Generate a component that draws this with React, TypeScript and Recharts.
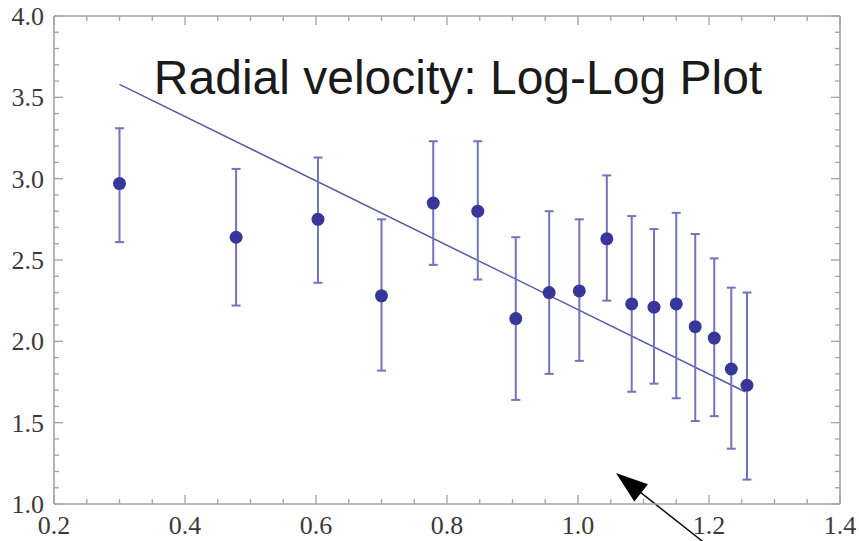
import { ComposedChart, Scatter, Line, XAxis, YAxis, ErrorBar, ReferenceLine } from 'recharts';

// log r values (x) and log v values (y)
const logR = [0.30, 0.478, 0.603, 0.70, 0.779, 0.847, 0.905, 0.956, 1.002, 1.044, 1.082, 1.116, 1.15, 1.179, 1.208, 1.234, 1.258];
const logV = [2.97, 2.64, 2.75, 2.28, 2.85, 2.80, 2.14, 2.30, 2.31, 2.63, 2.23, 2.21, 2.23, 2.09, 2.02, 1.83, 1.73];
const errTop = [3.31, 3.06, 3.13, 2.75, 3.23, 3.23, 2.64, 2.80, 2.75, 3.02, 2.77, 2.69, 2.79, 2.66, 2.51, 2.33, 2.30];
const errBottom = [2.61, 2.22, 2.36, 1.82, 2.47, 2.38, 1.64, 1.80, 1.88, 2.25, 1.69, 1.74, 1.65, 1.51, 1.54, 1.34, 1.15];

// fitted straight line
const fitX = [0.30, 1.255];
const fitY = [3.58, 1.69];

// annotation arrow (tail -> tip), in data units
const arrowTail = { x: 1.195, y: 0.755 };
const arrowTip = { x: 1.058, y: 1.19 };

const xMajor = ['0.2', '0.4', '0.6', '0.8', '1.0', '1.2', '1.4'];
const yMajor = ['1.0', '1.5', '2.0', '2.5', '3.0', '3.5', '4.0'];
const xTicks = Array.from({ length: 25 }, (_, i) => Math.round((0.2 + i * 0.05) * 100) / 100);
const yTicks = Array.from({ length: 31 }, (_, i) => Math.round((1 + i * 0.1) * 10) / 10);

const points = logR.map((x, i) => ({
  x,
  y: logV[i],
  err: [logV[i] - errBottom[i], errTop[i] - logV[i]],
}));
const fitData = fitX.map((x, i) => ({ x, y: fitY[i] }));

const FRAME = '#a3a3a3';
const LABEL = '#3a3a3a';
const labelFont = '"Liberation Serif", "Times New Roman", serif';

const majorLabel = (v: number, labels: string[]) => labels.find((l) => Math.abs(parseFloat(l) - v) < 1e-6);

const BottomTick = ({ x, y, payload }: any) => {
  const lab = majorLabel(payload.value, xMajor);
  return (
    <g>
      <line x1={x} y1={y} x2={x} y2={y - (lab ? 9 : 5)} stroke={FRAME} strokeWidth={1.3} />
      {lab && (
        <text x={x} y={y + 30} textAnchor="middle" fontFamily={labelFont} fontSize={26} fill={LABEL}>
          {lab}
        </text>
      )}
    </g>
  );
};

const TopTick = ({ x, y, payload }: any) => {
  const lab = majorLabel(payload.value, xMajor);
  return <line x1={x} y1={y} x2={x} y2={y + (lab ? 9 : 5)} stroke={FRAME} strokeWidth={1.3} />;
};

const LeftTick = ({ x, y, payload }: any) => {
  const lab = majorLabel(payload.value, yMajor);
  return (
    <g>
      <line x1={x} y1={y} x2={x + (lab ? 9 : 5)} y2={y} stroke={FRAME} strokeWidth={1.3} />
      {lab && (
        <text x={x - 10} y={y + 9} textAnchor="end" fontFamily={labelFont} fontSize={26} fill={LABEL}>
          {lab}
        </text>
      )}
    </g>
  );
};

const RightTick = ({ x, y, payload }: any) => {
  const lab = majorLabel(payload.value, yMajor);
  return <line x1={x} y1={y} x2={x - (lab ? 9 : 5)} y2={y} stroke={FRAME} strokeWidth={1.3} />;
};

const Arrow = (props: any) => {
  const { x1, y1, x2, y2 } = props;
  const dx = x2 - x1;
  const dy = y2 - y1;
  const len = Math.sqrt(dx * dx + dy * dy);
  const ux = dx / len;
  const uy = dy / len;
  const headLen = 32;
  const halfW = 11;
  const bx = x2 - ux * headLen;
  const by = y2 - uy * headLen;
  return (
    <g>
      <line x1={x1} y1={y1} x2={bx + ux * 2} y2={by + uy * 2} stroke="#000" strokeWidth={1.4} />
      <polygon
        points={`${x2},${y2} ${bx - uy * halfW},${by + ux * halfW} ${bx + uy * halfW},${by - ux * halfW}`}
        fill="#000"
      />
    </g>
  );
};

const Dot = ({ cx, cy }: any) => <circle cx={cx} cy={cy} r={6.5} fill="#37379a" />;

export default function App() {
  return (
    <div style={{ position: 'absolute', left: 0, top: 0, width: 859, height: 541, background: '#fff' }}>
      <ComposedChart width={859} height={541} margin={{ top: 15, right: 18, bottom: 0, left: 8 }}>
        <XAxis
          type="number"
          dataKey="x"
          domain={[0.2, 1.4]}
          allowDataOverflow
          ticks={xTicks}
          interval={0}
          height={37}
          tickSize={0}
          tickMargin={0}
          tickLine={false}
          axisLine={{ stroke: FRAME, strokeWidth: 1.6 }}
          tick={<BottomTick />}
        />
        <XAxis
          xAxisId="top"
          orientation="top"
          type="number"
          dataKey="x"
          domain={[0.2, 1.4]}
          allowDataOverflow
          ticks={xTicks}
          interval={0}
          height={1}
          tickSize={0}
          tickMargin={0}
          tickLine={false}
          axisLine={{ stroke: FRAME, strokeWidth: 1.6 }}
          tick={<TopTick />}
        />
        <YAxis
          type="number"
          dataKey="y"
          domain={[1, 4]}
          allowDataOverflow
          ticks={yTicks}
          interval={0}
          width={46}
          tickSize={0}
          tickMargin={0}
          tickLine={false}
          axisLine={{ stroke: FRAME, strokeWidth: 1.6 }}
          tick={<LeftTick />}
        />
        <YAxis
          yAxisId="right"
          orientation="right"
          type="number"
          dataKey="y"
          domain={[1, 4]}
          allowDataOverflow
          ticks={yTicks}
          interval={0}
          width={1}
          tickSize={0}
          tickMargin={0}
          tickLine={false}
          axisLine={{ stroke: FRAME, strokeWidth: 1.6 }}
          tick={<RightTick />}
        />
        {/* fit line is drawn on the mirrored frame axes (same domains) */}
        <Line
          data={fitData}
          dataKey="y"
          xAxisId="top"
          yAxisId="right"
          type="linear"
          stroke="#5858a8"
          strokeWidth={1.5}
          dot={false}
          activeDot={false}
          isAnimationActive={false}
        />
        <Scatter data={points} dataKey="y" shape={<Dot />} isAnimationActive={false}>
          <ErrorBar dataKey="err" direction="y" width={4.5} stroke="#7373bd" strokeWidth={2} />
        </Scatter>
        <ReferenceLine
          segment={[arrowTail, arrowTip]}
          ifOverflow="visible"
          shape={<Arrow />}
        />
      </ComposedChart>
      <svg width={859} height={541} style={{ position: 'absolute', left: 0, top: 0, pointerEvents: 'none' }}>
        <text
          x={458}
          y={94}
          textAnchor="middle"
          fontFamily='"Liberation Sans", Arial, sans-serif'
          fontSize={48}
          fill="#1a1a1a"
        >
          Radial velocity: Log-Log Plot
        </text>
      </svg>
    </div>
  );
}
